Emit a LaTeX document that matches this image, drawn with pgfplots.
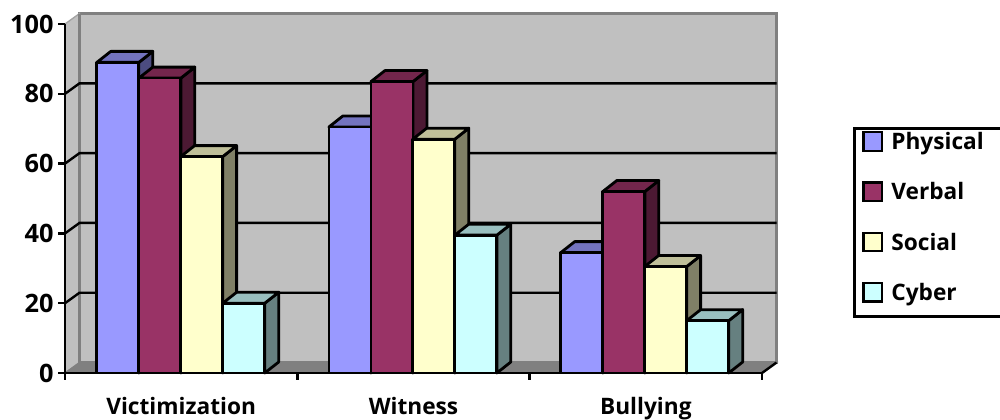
\documentclass[border=0pt]{standalone}
\usepackage{pgfplots}
\pgfplotsset{compat=1.18}
\usepackage{fontspec}
\setmainfont{Open Sans}
\definecolor{cphys}{HTML}{9999FF}
\definecolor{cverb}{HTML}{993366}
\definecolor{csoc}{HTML}{FFFFCC}
\definecolor{ccyb}{HTML}{CCFFFF}
\definecolor{wall}{HTML}{C0C0C0}
\definecolor{floorc}{HTML}{808080}
% depth of the fake 3D, in axis units
\def\wx{0.0624}\def\wy{3.0}
\def\bx{0.0600}\def\by{3.15}
\def\barw{0.1808}
\newcommand{\threedbar}[3]{%
  \pgfmathsetmacro\xa{#1}\pgfmathsetmacro\xb{#1+\barw}%
  \pgfmathsetmacro\xc{#1+\barw+\bx}\pgfmathsetmacro\xd{#1+\bx}%
  \pgfmathsetmacro\ya{#2+\by}%
  \edef\tmp{%
    \noexpand\addplot[forget plot,draw=black,line width=2.1pt,line join=round,fill=#3!50!black]
      coordinates {(\xb,0) (\xc,\by) (\xc,\ya) (\xb,#2)} --cycle;
    \noexpand\addplot[forget plot,draw=black,line width=2.1pt,line join=round,fill=#3!75!black]
      coordinates {(\xa,#2) (\xd,\ya) (\xc,\ya) (\xb,#2)} --cycle;
    \noexpand\addplot[forget plot,draw=black,line width=2.1pt,line join=round,fill=#3]
      coordinates {(\xa,0) (\xa,#2) (\xb,#2) (\xb,0)} --cycle;
  }\tmp}
\newcommand{\gridrow}[1]{%
  \pgfmathsetmacro\ya{#1+\wy}%
  \edef\tmp{\noexpand\addplot[forget plot,black,line width=1.8pt]
    coordinates {(0,#1) (\wx,\ya) (3+\wx,\ya)};}\tmp}
\begin{document}
\begin{tikzpicture}
\useasboundingbox (-48.75pt,-34.5pt) rectangle (701.25pt,279.75pt);
\begin{axis}[
  scale only axis,
  width=522.75pt,
  height=261.75pt,
  xmin=0, xmax=3,
  ymin=0, ymax=100,
  clip=false,
  axis on top,
  axis x line*=bottom,
  axis y line*=left,
  axis line style={black,line width=2.1pt,-},
  xtick={0,1,2,3},
  xticklabels={},
  extra x ticks={0.5,1.5,2.5},
  extra x tick labels={Victimization,Witness,Bullying},
  extra x tick style={major tick length=0pt,tick label style={yshift=-15pt,font=\bfseries\fontsize{17}{17}\selectfont}},
  ytick={0,20,40,60,80,100},
  tick style={black,line width=1.9pt},
  major tick length=5pt,
  tick align=outside,
  ticklabel style={font=\bfseries\fontsize{19}{19}\selectfont,text=black},
  /pgf/number format/assume math mode=true,
  legend style={
    at={(rel axis cs:1.1306,0.7049)},anchor=north west,
    draw=black,line width=2.1pt,
    inner xsep=6pt,inner ysep=2pt,
    row sep=13.7pt,
    font=\bfseries\fontsize{17}{17}\selectfont,
    legend cell align=left,
    nodes={text depth=8pt,text height=8.25pt,text width=78pt},
    /tikz/every odd column/.append style={column sep=4pt},
  },
  legend image code/.code={%
    \draw[#1,line width=1.7pt] (0pt,-1pt) rectangle (14pt,13pt);},
]
% back wall, side wall, floor
\addplot[forget plot,fill=wall,draw=floorc,line width=1.8pt] coordinates {(\wx,\wy) (\wx,100+\wy) (3+\wx,100+\wy) (3+\wx,\wy)} --cycle;
\addplot[forget plot,fill=wall,draw=wall!85!black,line width=1pt] coordinates {(0,0) (0,100) (\wx,100+\wy) (\wx,\wy)} --cycle;
\addplot[forget plot,fill=floorc,draw=floorc,line width=1pt] coordinates {(0,0) (\wx,\wy) (3+\wx,\wy) (3,0)} --cycle;
\addplot[forget plot,floorc,line width=1.8pt] coordinates {(\wx,\wy) (\wx,100+\wy)};
\gridrow{20}\gridrow{40}\gridrow{60}\gridrow{80}
\addplot[forget plot,black,line width=1.8pt] coordinates {(3,0) (3+\wx,\wy)};

\addlegendimage{fill=cphys,draw=black}\addlegendentry{Physical}
\addlegendimage{fill=cverb,draw=black}\addlegendentry{Verbal}
\addlegendimage{fill=csoc,draw=black}\addlegendentry{Social}
\addlegendimage{fill=ccyb,draw=black}\addlegendentry{Cyber}

% Victimization
\threedbar{0.137}{89}{cphys}
\threedbar{0.318}{84.5}{cverb}
\threedbar{0.498}{62}{csoc}
\threedbar{0.679}{20}{ccyb}
% Witness
\threedbar{1.136}{70.5}{cphys}
\threedbar{1.317}{83.5}{cverb}
\threedbar{1.497}{67}{csoc}
\threedbar{1.678}{39.5}{ccyb}
% Bullying
\threedbar{2.134}{34.5}{cphys}
\threedbar{2.315}{52}{cverb}
\threedbar{2.495}{30.5}{csoc}
\threedbar{2.676}{15}{ccyb}
\end{axis}
\end{tikzpicture}
\end{document}
